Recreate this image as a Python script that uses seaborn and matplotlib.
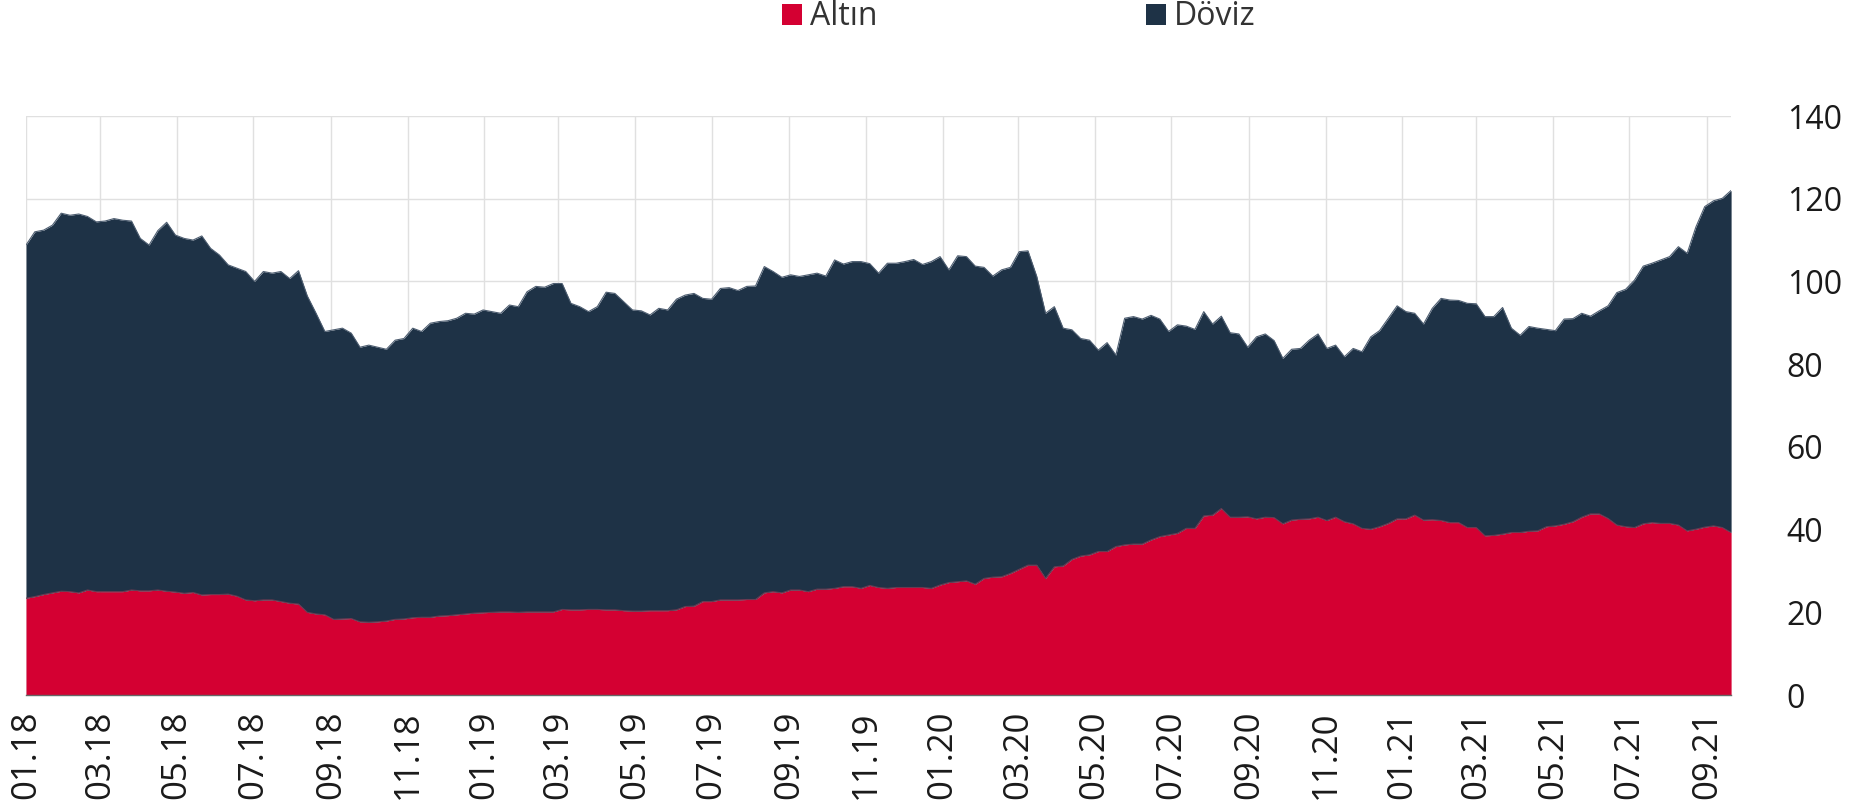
import numpy as np
import pandas as pd
import matplotlib
matplotlib.use('Agg')
import matplotlib.pyplot as plt
import matplotlib.dates as mdates
from matplotlib.patches import Patch
import seaborn as sns

# haftalik veri, 01.2018 - 09.2021 (milyar $)
baslangic = '2018-01-01'

toplam = [
    108.8, 112.0, 112.4, 113.6, 116.5, 116.0, 116.3, 115.7, 114.4, 114.6, 115.2,
    114.8, 114.6, 110.4, 108.8, 112.3, 114.3, 111.2, 110.4, 110.0, 111.0, 108.0,
    106.4, 104.0, 103.2, 102.4, 100.0, 102.4, 102.0, 102.4, 100.7, 102.6, 96.5,
    92.3, 87.9, 88.3, 88.7, 87.5, 84.1, 84.6, 84.1, 83.6, 85.8, 86.2, 88.7, 87.9,
    89.9, 90.3, 90.5, 91.1, 92.3, 92.1, 93.1, 92.7, 92.3, 94.3, 93.9, 97.5, 98.8,
    98.6, 99.5, 99.5, 94.7, 93.9, 92.7,
    93.9, 97.4, 97.1, 95.1, 93.1, 92.9, 91.9, 93.5, 93.1, 95.7, 96.7, 97.1, 95.9,
    95.7, 98.3, 98.5, 97.8, 98.8, 98.9, 103.6, 102.4, 101.0, 101.6, 101.2, 101.6,
    102.0, 101.3, 105.2, 104.2, 104.8, 104.8, 104.3,
    102.0, 104.4, 104.4, 104.8, 105.3, 104.1, 104.8, 106.0, 102.8, 106.2, 106.0,
    103.7, 103.4, 101.3, 102.8, 103.4, 107.2, 107.4, 101.2, 92.3, 93.9, 88.7, 88.3,
    86.2, 85.8, 83.4, 85.2, 82.2, 91.1, 91.5, 90.9, 91.8,
    90.9, 87.9, 89.5, 89.2, 88.4, 92.7, 89.7, 91.6, 87.6, 87.3, 84.1, 86.6, 87.3,
    85.7, 81.4, 83.6, 83.8, 85.8, 87.3, 83.8, 84.6, 81.8, 83.8, 83.0, 86.6, 88.1,
    91.1, 94.1, 92.7, 92.3, 89.7, 93.5,
    95.9, 95.5, 95.4, 94.7, 94.6, 91.5, 91.5, 93.7, 88.7, 87.0, 89.1, 88.7, 88.4,
    88.1, 90.9, 91.0, 92.3, 91.6, 92.9, 94.1, 97.3, 98.1, 100.3, 103.7, 104.4,
    105.2, 106.0, 108.4, 106.8, 113.2, 118.1, 119.5, 120.1, 122.0,
]

altin = [
    23.4, 23.8, 24.3, 24.7, 25.1, 25.0, 24.7, 25.4, 25.0, 25.0, 25.0, 25.0, 25.4,
    25.2, 25.2, 25.4, 25.1, 24.9, 24.6, 24.8, 24.2, 24.3, 24.3, 24.4, 23.9, 23.0,
    22.8, 23.0, 23.0, 22.6, 22.2, 22.0, 20.0,
    19.6, 19.4, 18.3, 18.4, 18.5, 17.7, 17.6, 17.7, 17.9, 18.3, 18.4, 18.7, 18.8,
    18.8, 19.1, 19.2, 19.4, 19.6, 19.8, 19.9, 20.0, 20.1, 20.1, 20.0, 20.1, 20.1,
    20.1, 20.1, 20.7, 20.6, 20.6, 20.7,
    20.7, 20.6, 20.6, 20.4, 20.3, 20.3, 20.4, 20.4, 20.4, 20.6, 21.4, 21.5, 22.6,
    22.6, 23.0, 23.0, 23.0, 23.1, 23.1, 24.7, 25.0, 24.7, 25.4, 25.4, 25.0, 25.6,
    25.6, 25.8, 26.2, 26.2, 25.8, 26.5,
    26.0, 25.8, 26.0, 26.0, 26.0, 26.0, 25.8, 26.6, 27.2, 27.4, 27.6, 26.8, 28.2,
    28.5, 28.6, 29.4, 30.4, 31.4, 31.4, 28.2, 31.0, 31.2, 32.8, 33.6, 33.9, 34.7,
    34.7, 35.9, 36.3, 36.5, 36.5, 37.5,
    38.3, 38.7, 39.1, 40.3, 40.3, 43.3, 43.5, 45.1, 43.0, 43.0, 43.1, 42.6, 43.0,
    42.9, 41.4, 42.3, 42.5, 42.6, 43.0, 42.2, 43.0, 41.9, 41.4, 40.3, 40.1, 40.7,
    41.5, 42.6, 42.6, 43.5, 42.3, 42.4,
    42.2, 41.7, 41.7, 40.5, 40.5, 38.5, 38.6, 38.9, 39.3, 39.3, 39.6, 39.7, 40.7,
    40.9, 41.3, 41.9, 43.0, 43.8, 43.8, 42.7, 41.1, 40.7, 40.5, 41.4, 41.7, 41.5,
    41.5, 41.1, 39.7, 40.1, 40.6, 40.9, 40.5, 39.3,
]

seriler = ['Altın', 'Döviz']
renkler = ['#d40032', '#1e3246']
y_ticks = [0, 20, 40, 60, 80, 100, 120, 140]

tarih = pd.date_range(baslangic, periods=len(toplam), freq='7D')
df = pd.DataFrame({'tarih': tarih, 'Altın': altin, 'Toplam': toplam})
df['Döviz'] = df['Toplam'] - df['Altın']

sns.set_theme(style='whitegrid')
plt.rcParams['font.family'] = ['Open Sans', 'DejaVu Sans']

fig = plt.figure(figsize=(18.59, 8.05), dpi=100)
ax = fig.add_axes([0.014, 0.1366, 0.9172, 0.7193])

ax.stackplot(df['tarih'], df['Altın'], df['Döviz'], colors=renkler,
             labels=seriler, linewidth=0, zorder=2)
sns.lineplot(data=df, x='tarih', y='Toplam', color='#4d5d70', lw=0.8,
             ax=ax, legend=False, zorder=3)
sns.lineplot(data=df, x='tarih', y='Altın', color='#6a3a52', lw=0.8,
             ax=ax, legend=False, zorder=3)

ax.set_xlim(tarih[0], tarih[-1])
ax.set_ylim(0, 140)
ax.set_yticks(y_ticks)
ax.set_xlabel('')
ax.set_ylabel('')

ax.yaxis.tick_right()
ax.tick_params(axis='y', length=0, pad=40, labelsize=23, labelcolor='#1a1a1a')
ax.xaxis.set_major_locator(mdates.MonthLocator(bymonth=[1, 3, 5, 7, 9, 11]))
ax.xaxis.set_major_formatter(mdates.DateFormatter('%m.%y'))
ax.tick_params(axis='x', length=0, pad=11, labelsize=25, labelcolor='#1a1a1a',
               labelrotation=90)

ax.grid(True, color='#e0e0e0', lw=1)
ax.set_axisbelow(True)
for s in ['top', 'left', 'right']:
    ax.spines[s].set_visible(False)
ax.spines['bottom'].set_color('#666666')
ax.spines['bottom'].set_linewidth(1)
ax.set_facecolor('white')

handles = [Patch(facecolor=c, edgecolor='none') for c in renkler]
fig.legend(handles, seriler, loc='center', bbox_to_anchor=(0.548, 0.979),
           ncol=2, frameon=False, fontsize=23, handlelength=0.63, handleheight=0.63,
           handletextpad=0.25, columnspacing=8.4, labelcolor='#333333')

fig.savefig('out.png', dpi=100, facecolor='white')
